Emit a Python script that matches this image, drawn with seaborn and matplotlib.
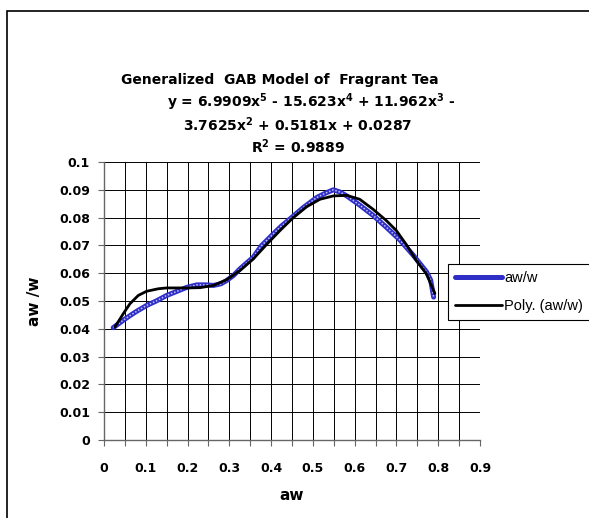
import numpy as np
import seaborn as sns
import pandas as pd
import matplotlib.pyplot as plt
from matplotlib.lines import Line2D
from matplotlib.patches import Rectangle

aw = [0.022, 0.05, 0.075, 0.102, 0.125, 0.15, 0.175, 0.198, 0.222, 0.245,
      0.262, 0.28, 0.293, 0.31, 0.325, 0.34, 0.357, 0.377, 0.405, 0.425,
      0.445, 0.477, 0.509, 0.53, 0.549, 0.565, 0.581, 0.612, 0.644, 0.676,
      0.708, 0.74, 0.772, 0.782, 0.789]
aw_w = [0.0404, 0.0435, 0.046, 0.0484, 0.050, 0.052, 0.0535, 0.0549, 0.0558, 0.0558,
        0.0556, 0.0562, 0.0573, 0.0592, 0.0615, 0.0635, 0.0657, 0.0699, 0.0741, 0.077,
        0.0795, 0.0836, 0.0872, 0.0888, 0.0900, 0.0892, 0.0878, 0.0845, 0.0808, 0.0765,
        0.0720, 0.0665, 0.0605, 0.0575, 0.0514]

# polynomial trendline as drawn in the reference
poly_aw = [0.026, 0.046, 0.062, 0.082, 0.102, 0.13, 0.15, 0.198, 0.23, 0.262,
           0.293, 0.325, 0.357, 0.389, 0.421, 0.453, 0.485, 0.517, 0.549, 0.581,
           0.612, 0.644, 0.676, 0.70, 0.724, 0.748, 0.772, 0.792]
poly_y = [0.0406, 0.0454, 0.049, 0.052, 0.0535, 0.0544, 0.0547, 0.0547, 0.0548, 0.0556,
          0.0576, 0.0609, 0.0651, 0.0703, 0.0753, 0.080, 0.0839, 0.0866, 0.0878, 0.088,
          0.0866, 0.083, 0.0789, 0.0753, 0.0702, 0.0645, 0.0597, 0.0527]

title = 'Generalized  GAB Model of  Fragrant Tea'
eq_lines = [r'y = 6.9909x$^\mathbf{5}$ - 15.623x$^\mathbf{4}$ + 11.962x$^\mathbf{3}$ -',
            r'3.7625x$^\mathbf{2}$ + 0.5181x + 0.0287',
            r'R$^\mathbf{2}$ = 0.9889']

data = pd.DataFrame({'aw': aw, 'aw/w': aw_w})
trend = pd.DataFrame({'aw': poly_aw, 'aw/w': poly_y})

sns.set_style('white')
plt.rcParams['font.family'] = ['DejaVu Sans']
plt.rcParams['mathtext.fontset'] = 'dejavusans'
plt.rcParams['text.color'] = 'black'

W, H = 589, 518
fig = plt.figure(figsize=(W / 100, H / 100), dpi=100)
ax = fig.add_axes([104 / W, 1 - 440 / H, (480 - 104) / W, (440 - 162) / H])

# blue patterned line
sns.lineplot(x='aw', y='aw/w', data=data, ax=ax, color='#2f2fc8', lw=3.6,
             sort=False, estimator=None, zorder=3)
ax.plot(aw, aw_w, color='#c0c0f2', lw=1.1, dashes=(1, 1.2), zorder=4)

sns.lineplot(x='aw', y='aw/w', data=trend, ax=ax, color='black', lw=2,
             sort=False, estimator=None, zorder=5)

ax.set_xlim(0, 0.9)
ax.set_ylim(0, 0.1)
ax.set_xticks(np.arange(0, 0.91, 0.1))
ax.set_xticks(np.arange(0.05, 0.9, 0.1), minor=True)
ax.set_yticks(np.arange(0, 0.101, 0.01))
ax.set_xticklabels(['0', '0.1', '0.2', '0.3', '0.4', '0.5', '0.6', '0.7', '0.8', '0.9'])
ax.set_yticklabels(['0', '0.01', '0.02', '0.03', '0.04', '0.05', '0.06', '0.07',
                    '0.08', '0.09', '0.1'])
ax.grid(True, which='both', color='black', lw=0.7)
for s in ['top', 'right']:
    ax.spines[s].set_visible(False)
for s in ['left', 'bottom']:
    ax.spines[s].set_color('#666666')
    ax.spines[s].set_linewidth(1)
ax.tick_params(axis='both', which='both', direction='out', length=4, width=0.8,
               color='#666666', labelcolor='black', bottom=True, left=True)
ax.tick_params(axis='x', labelsize=9, pad=12)
ax.tick_params(axis='y', labelsize=9, pad=6)
for lbl in ax.get_xticklabels() + ax.get_yticklabels():
    lbl.set_fontweight('bold')
ax.set_xlabel('')
ax.set_ylabel('')

fig.text(292 / W, 1 - 496 / H, 'aw', ha='center', va='center', fontsize=11, fontweight='bold')
fig.text(35 / W, 1 - 301 / H, 'aw /w', ha='center', va='center', rotation=90,
         fontsize=11, fontweight='bold')

fig.text(280 / W, 1 - 80 / H, title, ha='center', va='center', fontsize=10, fontweight='bold')
for txt, cx, cy in zip(eq_lines, [311, 298, 298], [102, 125, 147]):
    fig.text(cx / W, 1 - cy / H, txt, ha='center', va='center', fontsize=10, fontweight='bold')

handles = [Line2D([], [], color='#2f2fc8', lw=3.6),
           Line2D([], [], color='black', lw=2)]
leg = fig.legend(handles, ['aw/w', 'Poly. (aw/w)'], loc='upper left', mode='expand',
                 bbox_to_anchor=(448 / W, 1 - 317 / H, 0.4, 53 / H), frameon=True,
                 fancybox=False, prop={'family': 'Liberation Sans', 'size': 10.5},
                 handlelength=3.2, handletextpad=0.15, borderpad=0.5, labelspacing=0.95,
                 borderaxespad=0)
leg.get_frame().set_edgecolor('black')
leg.get_frame().set_linewidth(0.8)
leg.get_frame().set_alpha(1)

fig.add_artist(Rectangle((7 / W, -0.1), 1.2, 1.1 - 11 / H, transform=fig.transFigure,
                         fill=False, edgecolor='black', lw=1.2))

fig.savefig('out.png', dpi=100)
